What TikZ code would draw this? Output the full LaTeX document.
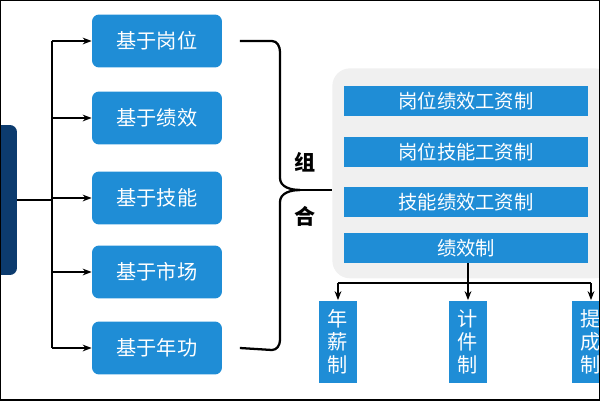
\documentclass[tikz,border=0pt]{standalone}
\usepackage{fontspec}
\setmainfont{Noto Sans CJK SC}
\usetikzlibrary{arrows.meta, positioning}
\definecolor{boxblue}{HTML}{1F8DD6}
\definecolor{navy}{HTML}{0C3B6E}

\begin{document}
\begin{tikzpicture}[
        x=0.02cm, y=-0.02cm,
        font=\fontsize{11.5}{13}\selectfont,
        basis/.style={
            fill=boxblue,
            rounded corners=4pt,
            text=white,
            minimum width=2.6cm,
            minimum height=1.06cm
        },
        bar/.style={
            fill=boxblue,
            text=white,
            minimum width=4.9cm,
            minimum height=0.54cm,
            font=\fontsize{11}{12}\selectfont
        },
        vbox/.style={
            fill=boxblue,
            text=white,
            minimum width=0.78cm,
            minimum height=1.66cm,
            align=center,
            font=\fontsize{11.5}{13}\selectfont
        },
        arrow/.style={-{Stealth[length=1.8mm]}, line width=1.3pt},
        line/.style={line width=1.3pt}
    ]
        \useasboundingbox (0,0) rectangle (600,400);
        \clip (0,0) rectangle (600,400);

        % ---- Left source ----
        \node[fill=navy, rounded corners=4pt, minimum width=0.6cm, minimum height=3cm] (src) at (2,200) {};

        % ---- Basis boxes ----
        \node[basis] (post) at (157,41) {基于岗位};
        \node[basis] (perf) at (157,118) {基于绩效};
        \node[basis] (skill) at (157,198) {基于技能};
        \node[basis] (market) at (157,272) {基于市场};
        \node[basis] (senior) at (157,348) {基于年功};

        \coordinate (trunk) at (52,200);
        \draw[line] (src.east) -- (trunk);
        \draw[line] (trunk |- post) -- (trunk |- senior);
        \foreach \b in {post, perf, skill, market, senior}
            \draw[arrow] (trunk |- \b) -- (\b.west);

        % ---- Brace ----
        \coordinate (tip) at (300,190);
        \draw[line] ([xshift=10]post.east) -- (272,41) to[out=0, in=90] (280,52)
            -- (280,178) to[out=-90, in=180] (tip);
        \draw[line] ([xshift=10]senior.east) -- (272,350) to[out=0, in=-90] (280,340)
            -- (280,202) to[out=90, in=180] (tip);
        \node[font=\bfseries\fontsize{12}{13}\selectfont] (zu) at (305,162) {组};
        \node[font=\bfseries\fontsize{12}{13}\selectfont] (he) at (305,216) {合};

        % ---- Combination panel ----
        \node[fill=gray!12, rounded corners=10pt, minimum width=5.6cm, minimum height=4.2cm, anchor=north west] (panel) at (332,68) {};
        \draw[line] (tip) -- (panel.west |- tip);

        \node[bar] (pp) at (466,101) {岗位绩效工资制};
        \node[bar] (ps) at (466,152) {岗位技能工资制};
        \node[bar] (sp) at (466,202) {技能绩效工资制};
        \node[bar] (pay) at (466,248) {绩效制};

        % ---- Performance pay types ----
        \node[vbox] (annual) at (338,342) {年\\薪\\制};
        \node[vbox] (piece) at (468,342) {计\\件\\制};
        \node[vbox] (comm) at (591,342) {提\\成\\制};

        \coordinate (split) at (468,283);
        \draw[line] (pay.south -| split) -- (split);
        \draw[line] (annual |- split) -- (comm |- split);
        \foreach \t in {annual, piece, comm}
            \draw[arrow] (\t |- split) -- (\t.north);

        % ---- Frame ----
        \draw[line width=1.5pt] (0,0) rectangle (600,400);
    \end{tikzpicture}
\end{document}
